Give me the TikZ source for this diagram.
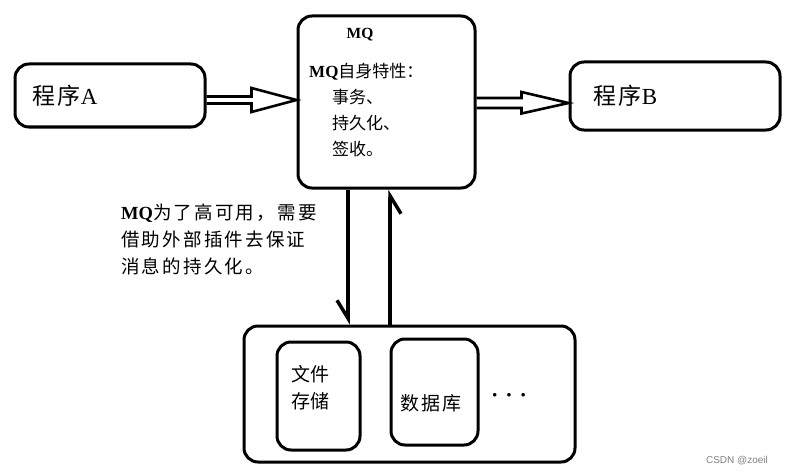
\documentclass[tikz,border=0pt]{standalone}
\usepackage{fontspec}
\setmainfont{Liberation Serif}
\newfontfamily\cjk{Noto Sans CJK SC}
\newfontfamily\cjksp[LetterSpace=12]{Noto Sans CJK SC}
\newfontfamily\wmfont{Liberation Sans}
\usepackage{tikz}
\usetikzlibrary{arrows.meta, positioning, calc}

\begin{document}
\begin{tikzpicture}[x=1pt, y=-1pt,
    box/.style={rectangle, draw=black, line width=3pt, rounded corners=14pt, fill=white, text=black},
    dblarrow/.style={draw=black, line width=2.6pt, line join=miter},
    vline/.style={draw=black, line width=3.5pt},
    txt/.style={text=black, inner sep=0pt, align=left}]
    \useasboundingbox (0,0) rectangle (797,476);%page size
    \node (progA) [box, minimum width=190pt, minimum height=63pt, text width=156pt, inner xsep=17pt, align=left, font=\fontsize{23}{26}\selectfont] at (110,95.5) {{\cjksp 程序}A};%program A
    \node (mq) [box, minimum width=177pt, minimum height=172pt] at (386.5,102) {};%the MQ box
    \node (mqtitle) [txt, font=\bfseries\fontsize{15.5}{18}\selectfont] at (360,35) {MQ};%MQ title
    \node (mqtxt) [txt, anchor=north west, font=\cjk\fontsize{17}{26}\selectfont] at (309,63) {{\rmfamily\bfseries MQ}自身特性：\\\hspace*{23pt}事务、\\\hspace*{23pt}持久化、\\\hspace*{23pt}签收。};%MQ features
    \node (progB) [box, minimum width=210pt, minimum height=68pt, text width=164pt, inner xsep=23pt, align=left, font=\fontsize{23}{26}\selectfont] at (675,96) {{\cjksp 程序}B};%program B
    \draw[dblarrow] ($(progA.east)+(0,1)$) -- ++(45,0) -- ++(0,-8.5) -- ($(mq.west)+(0,-2)$) -- ($(progA.east)+(45,16.5)$) -- ++(0,-8.5) -- ($(progA.east)+(0,8)$);%A sends to MQ
    \draw[dblarrow] ($(mq.east)+(0,-4)$) -- ++(45,0) -- ++(0,-6) -- ($(progB.west)+(0,7)$) -- ($(mq.east)+(45,11.5)$) -- ++(0,-5.5) -- ($(mq.east)+(0,6)$);%MQ sends to B
    \node (note) [txt, anchor=north west, font=\cjksp\fontsize{18.5}{27}\selectfont] at (121,204) {{\rmfamily\bfseries MQ}为了高可用，需要\\借助外部插件去保证\\消息的持久化。};%note on the left
    \node (store) [box, minimum width=331pt, minimum height=136pt] at (409.5,394) {};%storage box
    \node (file) [box, minimum width=83pt, minimum height=108pt] at (318.5,396) {};%file storage
    \node (filetxt) [txt, font=\cjk\fontsize{19}{27}\selectfont] at (310,388) {文件\\存储};
    \node (db) [box, minimum width=87pt, minimum height=106pt] at (434.5,392) {};%database
    \node (dbtxt) [txt, font=\cjksp\fontsize{19}{22}\selectfont] at (431,403) {数据库};
    \node (dots) [txt, font=\bfseries\fontsize{22}{22}\selectfont] at (509,398) {·\hspace{7pt}·\hspace{7pt}·};%more
    \coordinate (downx) at (348,0);
    \coordinate (upx) at (390,0);
    \draw[vline, -{Straight Barb[harpoon, swap, length=18pt, width=22pt]}] (mq.south -| downx) -- (store.north -| downx);%MQ to storage
    \draw[vline, -{Straight Barb[harpoon, swap, length=18pt, width=22pt]}] (store.north -| upx) -- (mq.south -| upx);%storage to MQ
    \node (wm) [txt, text=gray, font=\wmfont\fontsize{10}{12}\selectfont] at (737,461) {CSDN @zoeil};%watermark
  \end{tikzpicture}
\end{document}
